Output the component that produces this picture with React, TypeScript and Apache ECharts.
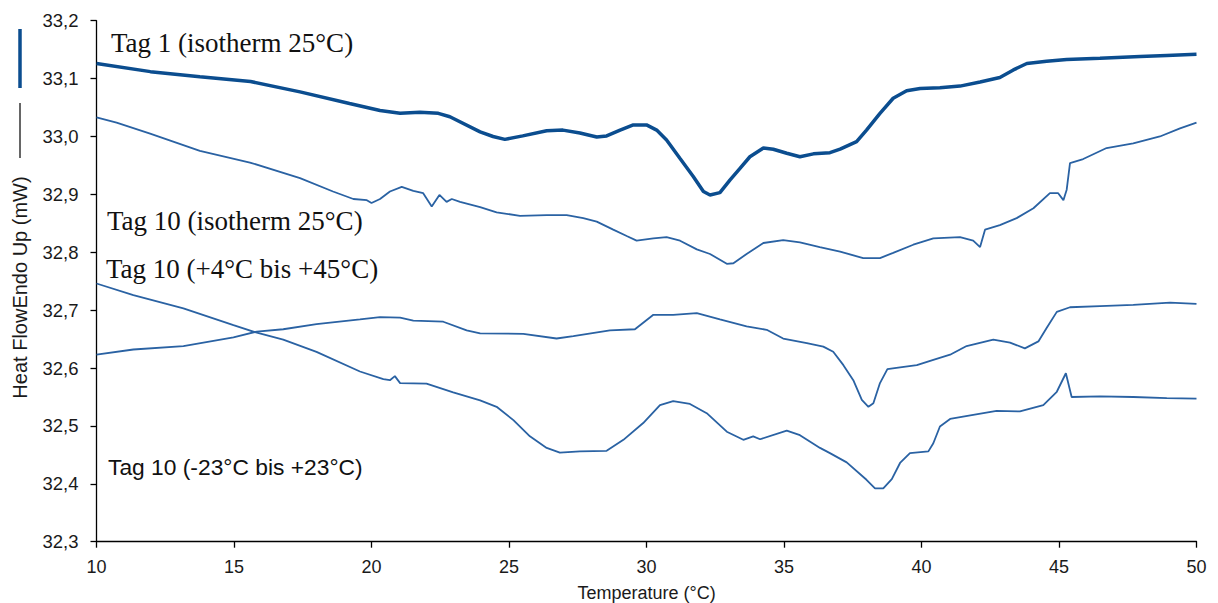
import React, { useEffect, useRef } from "react";
import * as echarts from "echarts";

const xTicks = { min: 10, max: 50, interval: 5 };
const yTicks = { min: 32.3, max: 33.2, interval: 0.1 };

const tag1Iso: number[][] = [
  [10, 33.126], [11.96, 33.112], [13.76, 33.103], [15.6, 33.095], [17.4, 33.077], [19.2, 33.057],
  [20.31, 33.045], [21.04, 33.04], [21.76, 33.042], [22.43, 33.04], [22.85, 33.034], [23.95, 33.008],
  [24.42, 33.0], [24.85, 32.995], [25.5, 33.001], [26.37, 33.01], [26.96, 33.011], [27.58, 33.006],
  [28.19, 32.999], [28.55, 33.001], [29.04, 33.011], [29.52, 33.02], [30.0, 33.02], [30.37, 33.011],
  [30.73, 32.994], [31.22, 32.962], [31.7, 32.931], [32.07, 32.905], [32.31, 32.899], [32.67, 32.903],
  [33.04, 32.925], [33.4, 32.945], [33.76, 32.965], [34.25, 32.98], [34.61, 32.978], [35.1, 32.971],
  [35.58, 32.965], [36.07, 32.97], [36.67, 32.972], [37.04, 32.978], [37.64, 32.991], [38.0, 33.011],
  [38.49, 33.04], [38.97, 33.066], [39.46, 33.079], [39.95, 33.083], [40.67, 33.084], [41.4, 33.087],
  [42.13, 33.094], [42.85, 33.102], [43.34, 33.115], [43.83, 33.126], [44.55, 33.13], [45.28, 33.133],
  [46.49, 33.135], [47.95, 33.138], [48.92, 33.14], [50, 33.142],
];

const tag10Iso: number[][] = [
  [10, 33.033], [10.73, 33.024], [11.95, 33.005], [13.76, 32.975], [15.58, 32.955], [17.4, 32.928],
  [18.6, 32.905], [19.34, 32.892], [19.83, 32.89], [20.0, 32.885], [20.31, 32.892], [20.67, 32.905],
  [21.1, 32.913], [21.52, 32.906], [21.88, 32.902], [22.19, 32.879], [22.47, 32.899], [22.73, 32.887],
  [22.92, 32.892], [23.22, 32.887], [23.95, 32.878], [24.55, 32.869], [25.4, 32.863], [26.37, 32.864],
  [27.1, 32.864], [27.7, 32.859], [28.19, 32.853], [28.79, 32.839], [29.28, 32.828], [29.64, 32.82],
  [30.25, 32.824], [30.73, 32.826], [31.22, 32.82], [31.83, 32.805], [32.31, 32.797], [32.92, 32.78],
  [33.16, 32.781], [33.64, 32.797], [34.25, 32.816], [34.97, 32.821], [35.58, 32.817], [36.3, 32.809],
  [37.04, 32.801], [37.88, 32.79], [38.49, 32.79], [38.97, 32.799], [39.7, 32.813], [40.43, 32.824],
  [41.4, 32.826], [41.88, 32.82], [42.13, 32.809], [42.31, 32.839], [42.85, 32.847], [43.46, 32.859],
  [44.07, 32.876], [44.67, 32.902], [44.97, 32.902], [45.16, 32.89], [45.28, 32.908], [45.4, 32.954],
  [45.88, 32.961], [46.73, 32.98], [47.7, 32.988], [48.67, 33.0], [49.4, 33.014], [50, 33.024],
];

const tag10Plus4: number[][] = [
  [10, 32.623], [11.34, 32.632], [13.16, 32.638], [14.98, 32.653], [15.83, 32.663], [16.79, 32.667],
  [18.0, 32.676], [19.58, 32.684], [20.31, 32.688], [21.04, 32.687], [21.52, 32.682], [22.61, 32.68],
  [23.46, 32.665], [23.95, 32.66], [25.52, 32.659], [26.73, 32.651], [27.34, 32.655], [28.67, 32.665],
  [29.58, 32.667], [30.25, 32.692], [30.97, 32.692], [31.83, 32.695], [32.67, 32.684], [33.64, 32.672],
  [34.37, 32.666], [34.97, 32.651], [35.83, 32.643], [36.43, 32.637], [36.79, 32.628], [37.16, 32.605],
  [37.52, 32.579], [37.83, 32.545], [38.07, 32.533], [38.25, 32.539], [38.49, 32.574], [38.76, 32.598],
  [39.22, 32.601], [39.83, 32.605], [40.43, 32.614], [41.04, 32.623], [41.64, 32.638], [42.61, 32.649],
  [43.22, 32.644], [43.76, 32.634], [44.25, 32.646], [44.55, 32.669], [44.92, 32.697], [45.4, 32.705],
  [46.49, 32.707], [47.7, 32.709], [49.04, 32.713], [50, 32.711],
];

const tag10Minus23: number[][] = [
  [10, 32.746], [11.34, 32.726], [13.16, 32.703], [14.98, 32.674], [15.83, 32.661], [16.79, 32.649],
  [18.0, 32.628], [19.58, 32.594], [20.43, 32.581], [20.67, 32.579], [20.85, 32.586], [21.04, 32.574],
  [22.0, 32.573], [22.97, 32.558], [23.95, 32.544], [24.55, 32.533], [25.16, 32.51], [25.76, 32.482],
  [26.37, 32.462], [26.85, 32.454], [27.58, 32.456], [28.55, 32.457], [29.16, 32.476], [29.88, 32.505],
  [30.49, 32.536], [30.97, 32.543], [31.58, 32.538], [32.19, 32.522], [32.92, 32.49], [33.52, 32.476],
  [33.88, 32.482], [34.13, 32.477], [35.1, 32.492], [35.58, 32.484], [36.31, 32.462], [36.67, 32.453],
  [37.28, 32.437], [38.0, 32.407], [38.31, 32.392], [38.61, 32.392], [38.92, 32.408], [39.22, 32.436],
  [39.58, 32.453], [40.25, 32.456], [40.43, 32.47], [40.67, 32.499], [41.04, 32.512], [41.88, 32.519],
  [42.73, 32.526], [43.58, 32.525], [44.43, 32.536], [44.92, 32.559], [45.25, 32.591], [45.46, 32.55],
  [46.49, 32.551], [47.7, 32.55], [48.92, 32.548], [50, 32.547],
];

const seriesNames = [
  "Tag 1 (isotherm 25°C)",
  "Tag 10 (isotherm 25°C)",
  "Tag 10 (+4°C bis +45°C)",
  "Tag 10 (-23°C bis +23°C)",
];

const xAxisTitle = "Temperature (°C)";
const yAxisTitle = "Heat FlowEndo Up (mW)";

const THICK = "#0b4d8f";
const THIN = "#2a62a3";

export default function App() {
  const ref = useRef<HTMLDivElement>(null);
  useEffect(() => {
    if (!ref.current) return;
    const chart = echarts.init(ref.current, undefined, { renderer: "svg" });
    const sans = "'Liberation Sans', Arial, sans-serif";
    const serif = "'Liberation Serif', 'Times New Roman', serif";
    const mk = (name: string, data: number[][], width: number, color: string) => ({
      name,
      type: "line",
      data,
      showSymbol: false,
      symbol: "none",
      smooth: false,
      lineStyle: { width, color },
      itemStyle: { color },
    });
    chart.setOption({
      animation: false,
      backgroundColor: "#ffffff",
      grid: {
        left: 96.5,
        right: 21.5,
        top: 20.7,
        bottom: 61.3,
        containLabel: false,
        outerBoundsMode: "none",
      },
      xAxis: {
        type: "value",
        min: xTicks.min,
        max: xTicks.max,
        interval: xTicks.interval,
        name: xAxisTitle,
        nameLocation: "middle",
        nameGap: 42,
        nameTextStyle: { fontFamily: sans, fontSize: 18, color: "#1a1a1a" },
        axisLine: { show: true, lineStyle: { color: "#000", width: 1.3 } },
        axisTick: { show: true, inside: false, length: 6, lineStyle: { color: "#000", width: 1.3 } },
        axisLabel: { margin: 16, fontFamily: sans, fontSize: 18, color: "#1a1a1a" },
        splitLine: { show: false },
      },
      yAxis: {
        type: "value",
        min: yTicks.min,
        max: yTicks.max,
        interval: yTicks.interval,
        axisLine: { show: true, lineStyle: { color: "#000", width: 1.3 } },
        axisTick: { show: true, inside: false, length: 6, lineStyle: { color: "#000", width: 1.3 } },
        axisLabel: {
          margin: 18,
          fontFamily: sans,
          fontSize: 18.5,
          color: "#1a1a1a",
          formatter: (v: number) => v.toFixed(1).replace(".", ","),
        },
        splitLine: { show: false },
      },
      series: [
        mk(seriesNames[0], tag1Iso, 3.5, THICK),
        mk(seriesNames[1], tag10Iso, 1.8, THIN),
        mk(seriesNames[2], tag10Plus4, 1.8, THIN),
        mk(seriesNames[3], tag10Minus23, 1.8, THIN),
      ],
      graphic: [
        { type: "text", x: 111, y: 43, style: { text: seriesNames[0], font: `27px ${serif}`, fill: "#111", verticalAlign: "middle" } },
        { type: "text", x: 107, y: 221, style: { text: seriesNames[1], font: `27px ${serif}`, fill: "#111", verticalAlign: "middle" } },
        { type: "text", x: 106, y: 269, style: { text: seriesNames[2], font: `27px ${serif}`, fill: "#111", verticalAlign: "middle" } },
        { type: "text", x: 108, y: 467, style: { text: seriesNames[3], font: `22.8px ${sans}`, fill: "#111", verticalAlign: "middle" } },
        {
          type: "text",
          x: 20,
          y: 287.5,
          rotation: Math.PI / 2,
          style: { text: yAxisTitle, font: `20px ${sans}`, fill: "#1a1a1a", align: "center", verticalAlign: "middle" },
        },
        { type: "line", shape: { x1: 20, y1: 103, x2: 20, y2: 158 }, style: { stroke: "#333", lineWidth: 1.5 } },
        { type: "line", shape: { x1: 20, y1: 29, x2: 20, y2: 88 }, style: { stroke: THICK, lineWidth: 3.5 } },
      ],
    });
    return () => chart.dispose();
  }, []);
  return (
    <div
      ref={ref}
      style={{ position: "fixed", left: 0, top: 0, width: 1218, height: 603 }}
    />
  );
}
